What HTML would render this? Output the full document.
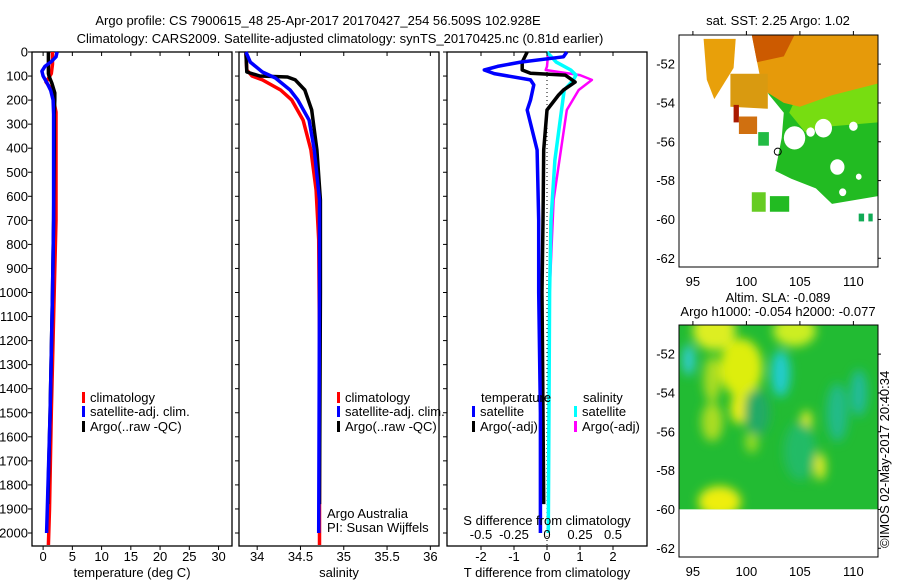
<!DOCTYPE html>
<html><head><meta charset="utf-8">
<style>
body{margin:0;background:#fff;}
svg{display:block;font-family:"Liberation Sans",sans-serif;}
text{font-size:13px;fill:#000;}
</style></head>
<body>
<svg id="chart" width="900" height="580" xmlns="http://www.w3.org/2000/svg">
<rect width="900" height="580" fill="#fff"/>
<text x="318" y="25" text-anchor="middle">Argo profile: CS 7900615_48 25-Apr-2017 20170427_254 56.509S 102.928E</text>
<text x="340" y="43" text-anchor="middle">Climatology: CARS2009. Satellite-adjusted climatology: synTS_20170425.nc (0.81d earlier)</text>
<g id="plots"></g>
</svg>
<script>
// ---------- data ----------
const tempClimDepth = [0, 50, 90, 110, 125, 150, 200, 250, 400, 700, 1000, 1500, 1900, 2050];
const tempClimVal   = [1.6, 1.6, 1.4, 0.9, 0.5, 1.3, 1.8, 2.2, 2.2, 2.2, 1.9, 1.4, 1.1, 0.9];
const tempSatDepth  = [0, 20, 40, 60, 80, 100, 130, 160, 200, 260, 400, 700, 1000, 1500, 2000];
const tempSatVal    = [2.4, 2.2, 1.4, 0.3, -0.2, 0.0, 0.7, 1.3, 1.7, 1.8, 1.8, 1.8, 1.6, 1.2, 0.6];
const tempArgoDepth = [0, 50, 90, 100, 130, 170, 200, 260, 400, 700, 1000, 1500, 1880];
const tempArgoVal   = [0.9, 0.9, 0.9, 1.0, 1.5, 2.0, 2.0, 1.9, 1.9, 1.8, 1.6, 1.2, 0.8];

const salClimDepth = [0, 75, 100, 116, 158, 200, 283, 407, 574, 780, 1200, 2050];
const salClimVal   = [33.87, 33.88, 33.94, 34.06, 34.27, 34.40, 34.53, 34.62, 34.68, 34.71, 34.72, 34.72];
const salSatDepth  = [0, 42, 83, 108, 158, 200, 283, 407, 615, 1000, 2000];
const salSatVal    = [33.87, 33.92, 34.06, 34.21, 34.38, 34.47, 34.60, 34.66, 34.72, 34.72, 34.71];
const salArgoDepth = [0, 83, 100, 104, 116, 158, 241, 407, 615, 1000, 1880];
const salArgoVal   = [33.87, 33.88, 34.03, 34.35, 34.44, 34.55, 34.63, 34.69, 34.73, 34.73, 34.72];

const dTSatDepth  = [0, 20, 42, 60, 75, 90, 116, 137, 200, 241, 407, 700, 1000, 1500, 2000];
const dTSatVal    = [0.6, 0.5, -0.8, -1.5, -1.9, -1.6, -0.5, -0.4, -0.5, -0.6, -0.3, -0.25, -0.25, -0.2, -0.2];
const dTArgoDepth = [0, 42, 75, 88, 96, 125, 158, 179, 241, 407, 700, 1000, 1500, 1880];
const dTArgoVal   = [-0.6, -0.75, -0.75, -0.5, 0.55, 0.85, 0.5, 0.35, 0.0, -0.1, -0.12, -0.15, -0.12, -0.1];
const dSSatDepth  = [0, 42, 75, 96, 116, 158, 283, 449, 700, 1000, 2000];
const dSSatVal    = [0.0, 0.07, 0.18, 0.22, 0.2, 0.13, 0.1, 0.06, 0.03, 0.02, 0.01];
const dSArgoDepth = [0, 60, 75, 96, 116, 158, 241, 615, 1000, 1880];
const dSArgoVal   = [0.01, 0.0, -0.01, 0.25, 0.34, 0.24, 0.15, 0.05, 0.02, 0.01];

const depthTicks = [0,100,200,300,400,500,600,700,800,900,1000,1100,1200,1300,1400,1500,1600,1700,1800,1900,2000];
const tempTicks = [0,5,10,15,20,25,30];
const salTicks = [34,34.5,35,35.5,36];
const dTTicks = [-2,-1,0,1,2];
const dSTicks = [-0.5,-0.25,0,0.25,0.5];
const lonTicks = [95,100,105,110];
const latTicks = [-52,-54,-56,-58,-60,-62];

// ---------- helpers ----------
const NS = "http://www.w3.org/2000/svg";
const G = document.getElementById('plots');
function el(tag, attrs, parent, txt){
  const e = document.createElementNS(NS, tag);
  for (const k in attrs) e.setAttribute(k, attrs[k]);
  if (txt !== undefined) e.textContent = txt;
  (parent||G).appendChild(e);
  return e;
}
const TOP = 52, BOT = 546;
const yD = d => TOP + d * 0.2405;

function panel(x0, x1, xmin, xmax, name){
  const sx = v => x0 + (v - xmin) / (xmax - xmin) * (x1 - x0);
  const r = el('rect', {x:x0, y:TOP, width:x1-x0, height:BOT-TOP, fill:'none', stroke:'#000', 'stroke-width':1.3});
  
  
  depthTicks.forEach(d => {
    const t = el('line', {x1:x0-4, x2:x0, y1:yD(d), y2:yD(d), stroke:'#000'});
    
    
  });
  return sx;
}
function series(sx, depths, vals, color, name, w){
  const pts = depths.map((d,i) => sx(vals[i]).toFixed(1) + ',' + yD(d).toFixed(1)).join(' ');
  const p = el('polyline', {points:pts, fill:'none', stroke:color, 'stroke-width':w||3.5, 'stroke-linejoin':'round'});
  
  
}
function xTicks(sx, ticks, y, name, fmt){
  ticks.forEach(v => {
    const x = sx(v);
    const a = el('line', {x1:x, x2:x, y1:TOP, y2:TOP+4, stroke:'#000'});
    
    
    const b = el('line', {x1:x, x2:x, y1:BOT, y2:BOT+4, stroke:'#000'});
    
    
    const t = el('text', {x:x, y:y, 'text-anchor':'middle'}, G, fmt ? fmt(v) : String(v));
    
    
  });
}
function legend(x, y, color, label, name){
  const r = el('rect', {x:x, y:y-10, width:3, height:11, fill:color});
  
  
  const t = el('text', {x:x+8, y:y}, G, label);
  
  
}

// depth labels
depthTicks.forEach(d => {
  const t = el('text', {x:28, y:yD(d)+4.5, 'text-anchor':'end'}, G, String(d));
  
  
});

// panel 1 temperature
const sT = panel(32, 232, -1.9, 32.3, 'temperature-panel');
series(sT, tempClimDepth, tempClimVal, '#ff0000', 'temp-climatology-line');
series(sT, tempArgoDepth, tempArgoVal, '#000000', 'temp-argo-line');
series(sT, tempSatDepth, tempSatVal, '#0000ff', 'temp-satellite-line');
xTicks(sT, tempTicks, 561, 'temperature-x');
let lab = el('text', {x:132, y:577, 'text-anchor':'middle'}, G, 'temperature (deg C)');


legend(82, 402, '#ff0000', 'climatology', 'temp-legend-climatology');
legend(82, 416, '#0000ff', 'satellite-adj. clim.', 'temp-legend-satellite');
legend(82, 431, '#000000', 'Argo(..raw -QC)', 'temp-legend-argo');

// panel 2 salinity
const sS = panel(239, 439, 33.79, 36.1, 'salinity-panel');
series(sS, salClimDepth, salClimVal, '#ff0000', 'sal-climatology-line');
series(sS, salArgoDepth, salArgoVal, '#000000', 'sal-argo-line');
series(sS, salSatDepth, salSatVal, '#0000ff', 'sal-satellite-line');
xTicks(sS, salTicks, 561, 'salinity-x');
lab = el('text', {x:339, y:577, 'text-anchor':'middle'}, G, 'salinity');


legend(337, 402, '#ff0000', 'climatology', 'sal-legend-climatology');
legend(337, 416, '#0000ff', 'satellite-adj. clim.', 'sal-legend-satellite');
legend(337, 431, '#000000', 'Argo(..raw -QC)', 'sal-legend-argo');
lab = el('text', {x:327, y:518}, G, 'Argo Australia');


lab = el('text', {x:327, y:532}, G, 'PI: Susan Wijffels');



// panel 3 differences
const sD = panel(447, 647, -3.03, 3.03, 'difference-panel');
const sDS = v => sD(v * 4);
const zl = el('line', {x1:sD(0), x2:sD(0), y1:TOP, y2:BOT, stroke:'#000', 'stroke-dasharray':'1,3'});


series(sDS, dSArgoDepth, dSArgoVal, '#ff00ff', 'dsal-argo-line', 2.5);
series(sDS, dSSatDepth, dSSatVal, '#00ffff', 'dsal-satellite-line');
series(sD, dTArgoDepth, dTArgoVal, '#000000', 'dtemp-argo-line');
series(sD, dTSatDepth, dTSatVal, '#0000ff', 'dtemp-satellite-line');
xTicks(sD, dTTicks, 561, 'dtemp-x');
dSTicks.forEach(v => {
  const t = el('text', {x:sDS(v), y:539, 'text-anchor':'middle'}, G, String(v));
  
  
});
lab = el('text', {x:547, y:525, 'text-anchor':'middle'}, G, 'S difference from climatology');


lab = el('text', {x:547, y:577, 'text-anchor':'middle'}, G, 'T difference from climatology');


lab = el('text', {x:481, y:402}, G, 'temperature');


lab = el('text', {x:583, y:402}, G, 'salinity');


legend(472, 416, '#0000ff', 'satellite', 'diff-legend-temp-satellite');
legend(472, 431, '#000000', 'Argo(-adj)', 'diff-legend-temp-argo');
legend(574, 416, '#00ffff', 'satellite', 'diff-legend-sal-satellite');
legend(574, 431, '#ff00ff', 'Argo(-adj)', 'diff-legend-sal-argo');

// ---------- maps ----------
const MX0 = 679, MX1 = 878;
const mx = lon => MX0 + (lon - 93.7) / (112.3 - 93.7) * (MX1 - MX0);
function mapFrame(top){
  return lat => top + (-50.5 - lat) / 11.95 * 232;
}
function mapAxes(top, my, name){
  const f = el('rect', {x:MX0, y:top, width:MX1-MX0, height:232, fill:'none', stroke:'#000'});
  
  
  lonTicks.forEach(l => {
    const t = el('text', {x:mx(l), y:top+251, 'text-anchor':'middle'}, G, String(l));
    
    
    const a = el('line', {x1:mx(l), x2:mx(l), y1:top, y2:top-4, stroke:'#000'});
    
    
  });
  latTicks.forEach(l => {
    const t = el('text', {x:MX0-4, y:my(l)+4.5, 'text-anchor':'end'}, G, String(l));
    
    
    const a = el('line', {x1:MX1, x2:MX1+3, y1:my(l), y2:my(l), stroke:'#000'});
    
    
  });
}
function poly(pts, fill, name, parent){
  const p = el('polygon', {points:pts.map(q => q[0].toFixed(1)+','+q[1].toFixed(1)).join(' '), fill:fill}, parent);
  
  
  return p;
}
// SST map
const T1 = 35;
const my1 = mapFrame(T1);
const ll = (lo, la, m) => [mx(lo), m(la)];
poly([ll(104.5,-53.3,my1),ll(112.3,-54.0,my1),ll(112.3,-58.8,my1),ll(108,-59.2,my1),ll(106.5,-58.4,my1),ll(104.2,-57.9,my1),ll(102.7,-57.5,my1),ll(103.3,-55.8,my1),ll(103.5,-54.5,my1),ll(102,-53.5,my1)], '#22bb22', 'sst-green-region');
poly([ll(105,-53.3,my1),ll(112.3,-52.8,my1),ll(112.3,-55,my1),ll(108,-55.2,my1),ll(105.5,-55.5,my1),ll(104,-54.5,my1)], '#77dd11', 'sst-yellowgreen-region');
poly([ll(100.5,-50.5,my1),ll(112.3,-50.5,my1),ll(112.3,-53.0,my1),ll(108,-53.6,my1),ll(105,-54.2,my1),ll(103.5,-54.0,my1),ll(101.5,-53.3,my1)], '#e69a0a', 'sst-orange-region');
poly([ll(100.5,-50.5,my1),ll(104.5,-50.5,my1),ll(103.5,-51.6,my1),ll(101,-51.9,my1)], '#cc5a00', 'sst-warm-region');
poly([ll(96,-50.7,my1),ll(99,-50.7,my1),ll(98.8,-52.2,my1),ll(97,-53.8,my1),ll(96.3,-52.8,my1)], '#e8a00a', 'sst-west-patch');
poly([ll(98.5,-52.5,my1),ll(102,-52.5,my1),ll(102,-54.3,my1),ll(98.5,-54.2,my1)], '#d99a10', 'sst-mid-patch');
poly([ll(98.8,-54.1,my1),ll(99.3,-54.1,my1),ll(99.3,-55.0,my1),ll(98.8,-55.0,my1)], '#aa1a00', 'sst-red-patch');
poly([ll(99.3,-54.7,my1),ll(101,-54.7,my1),ll(101,-55.6,my1),ll(99.3,-55.6,my1)], '#d07010', 'sst-orange-patch');
poly([ll(100.5,-58.6,my1),ll(101.8,-58.6,my1),ll(101.8,-59.6,my1),ll(100.5,-59.6,my1)], '#66cc22', 'sst-south-patch-1');
poly([ll(102.2,-58.8,my1),ll(104,-58.8,my1),ll(104,-59.6,my1),ll(102.2,-59.6,my1)], '#22bb22', 'sst-south-patch-2');
poly([ll(101.1,-55.5,my1),ll(102.1,-55.5,my1),ll(102.1,-56.2,my1),ll(101.1,-56.2,my1)], '#22bb44', 'sst-small-patch');
[[104.5,-55.8,1.5],[107.2,-55.3,1.2],[108.5,-57.3,1.0],[106,-55.5,0.6],[110,-55.2,0.6],[110.5,-57.8,0.4],[109,-58.6,0.5]].forEach(h => {
  const c = el('ellipse', {cx:mx(h[0]), cy:my1(h[1]), rx:h[2]*10.7/1.5, ry:h[2]*19.4/2.5, fill:'#fff'});
  
  
});
poly([ll(110.5,-59.7,my1),ll(111,-59.7,my1),ll(111,-60.1,my1),ll(110.5,-60.1,my1)], '#11aa55', 'sst-tiny-patch-1');
poly([ll(111.4,-59.7,my1),ll(111.8,-59.7,my1),ll(111.8,-60.1,my1),ll(111.4,-60.1,my1)], '#11aa55', 'sst-tiny-patch-2');
const mark = el('circle', {cx:mx(102.93), cy:my1(-56.51), r:3.5, fill:'none', stroke:'#000'});


mapAxes(T1, my1, 'sst-map');
lab = el('text', {x:778, y:25, 'text-anchor':'middle'}, G, 'sat. SST: 2.25 Argo: 1.02');



// SLA map
const T2 = 325;
const my2 = mapFrame(T2);
const defs = el('defs', {});
const flt = el('filter', {id:'blur', x:'-50%', y:'-50%', width:'200%', height:'200%'}, defs);
el('feGaussianBlur', {stdDeviation:5}, flt);
const cp = el('clipPath', {id:'slaclip'}, defs);
el('rect', {x:MX0, y:T2, width:MX1-MX0, height:my2(-60)-T2}, cp);
const sg = el('g', {'clip-path':'url(#slaclip)'});


el('rect', {x:MX0, y:T2, width:MX1-MX0, height:my2(-60)-T2, fill:'#22bb33'}, sg);
const bg = el('g', {filter:'url(#blur)'}, sg);
[[97,-50.8,2,1,'#ddee22'],[104.5,-50.8,2,0.8,'#ccee22'],[99.5,-52.7,2,1.5,'#ddee11'],[96.8,-53.3,0.8,1.2,'#aadd22'],[99.3,-54.8,0.8,0.8,'#eeee11'],[96.8,-55.5,1,1,'#aadd22'],[105.6,-55.5,0.5,0.6,'#eeee22'],[106.9,-57.8,0.5,0.7,'#eeee22'],[97.5,-59.6,2,0.8,'#eeee11'],[100.5,-56.5,0.6,0.6,'#99dd22'],
 [103.2,-53.0,0.9,1.2,'#22cccc'],[94.6,-52.3,0.6,0.8,'#33cccc'],[108.5,-55,1,1.5,'#22bb88'],[110.5,-54,0.8,1.2,'#22bb99'],[105,-57,1.5,1.5,'#22bb66'],[101,-55,1.2,1.2,'#22aa66']].forEach(b => {
  const e = el('ellipse', {cx:mx(b[0]), cy:my2(b[1]), rx:b[2]*10.7, ry:b[3]*19.4, fill:b[4]}, bg);
  
  
});
mapAxes(T2, my2, 'sla-map');
lab = el('text', {x:778, y:302, 'text-anchor':'middle'}, G, 'Altim. SLA: -0.089');


lab = el('text', {x:778, y:316, 'text-anchor':'middle'}, G, 'Argo h1000: -0.054 h2000: -0.077');


lab = el('text', {x:0, y:0, transform:'translate(889,548) rotate(-90)'}, G, '\u00A9IMOS 02-May-2017 20:40:34');


</script>
</body></html>
